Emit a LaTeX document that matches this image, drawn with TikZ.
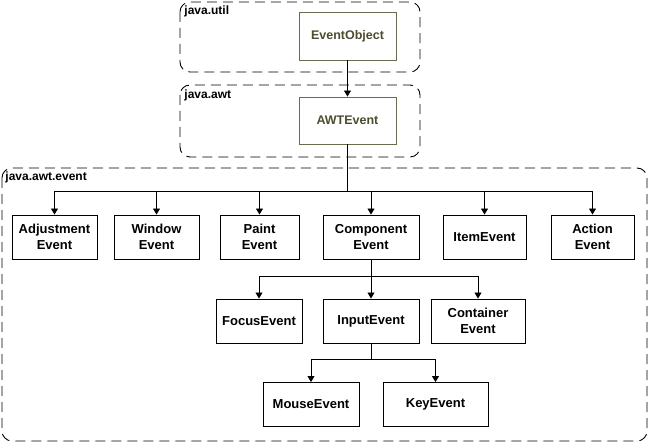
\documentclass[tikz,border=0pt]{standalone}
\usepackage{fontspec}
\setmainfont{Liberation Sans}
\usetikzlibrary{arrows.meta}
\definecolor{olivetext}{HTML}{4D4D2E}
\definecolor{olivebox}{HTML}{6B6B50}
\tikzset{
    pkg/.style={draw,dashed,dash pattern=on 10pt off 6pt,rounded corners=10pt},
    pkglabel/.style={anchor=base west,inner sep=0pt,font=\fontsize{12}{14}\selectfont\bfseries},
    evt/.style={draw,align=center,minimum height=44pt,inner sep=1pt,
        font=\fontsize{13}{15.5}\selectfont\bfseries},
    coreevt/.style={evt,draw=olivebox,text=olivetext,font=\fontsize{12.5}{15}\selectfont\bfseries},
    arr/.style={-{Triangle[width=7pt,length=6pt]}}
}
\begin{document}
\begin{tikzpicture}[x=1pt,y=-1pt,line width=0.9pt]
        \useasboundingbox (0,0) rectangle (649,443);
        %% Packages
        \draw[pkg] (180,2) rectangle (420,72);
        \node[pkglabel] (utillbl) at (184,14.5) {java.util};
        \draw[pkg] (180,85) rectangle (420,157);
        \node[pkglabel] (awtlbl) at (184,98.5) {java.awt};
        \draw[pkg] (2,168) rectangle (647,441);
        \node[pkglabel] (eventlbl) at (5,181) {java.awt.event};
        %% Core classes
        \node[coreevt,minimum width=97pt,minimum height=48pt] (evobj) at (347.5,36) {EventObject};
        \node[coreevt,minimum width=97pt,minimum height=47pt] (awtev) at (347.5,120.5) {AWTEvent};
        \draw[arr] (evobj) -- (awtev);
        %% First row
        \node[evt,minimum width=85pt] (adjust) at (54.5,237) {Adjustment\\Event};
        \node[evt,minimum width=85pt] (window) at (156.5,237) {Window\\Event};
        \node[evt,minimum width=79pt] (paint) at (259.5,237) {Paint\\Event};
        \node[evt,minimum width=96pt] (compo) at (371,237) {Component\\Event};
        \node[evt,minimum width=83pt] (item) at (484.5,237) {ItemEvent};
        \node[evt,minimum width=83pt] (action) at (592.5,237) {Action\\Event};
        \coordinate (busa) at (347.5,191);
        \draw (awtev.south) -- (busa);
        \foreach \n in {adjust,window,paint,compo,item,action}
            \draw[arr] (busa) -| (\n.north);
        %% Second row
        \node[evt,minimum width=86pt] (focus) at (259,321) {FocusEvent};
        \node[evt,minimum width=96pt] (input) at (371,321) {InputEvent};
        \node[evt,minimum width=94pt] (contain) at (478,321) {Container\\Event};
        \coordinate (busb) at (371,276);
        \draw (compo.south) -- (busb);
        \foreach \n in {focus,input,contain}
            \draw[arr] (busb) -| (\n.north);
        %% Third row
        \node[evt,minimum width=96pt] (mouse) at (311,404.5) {MouseEvent};
        \node[evt,minimum width=105pt] (key) at (435.5,404.5) {KeyEvent};
        \coordinate (busc) at (371,359);
        \draw (input.south) -- (busc);
        \foreach \n in {mouse,key}
            \draw[arr] (busc) -| (\n.north);
    \end{tikzpicture}
\end{document}
